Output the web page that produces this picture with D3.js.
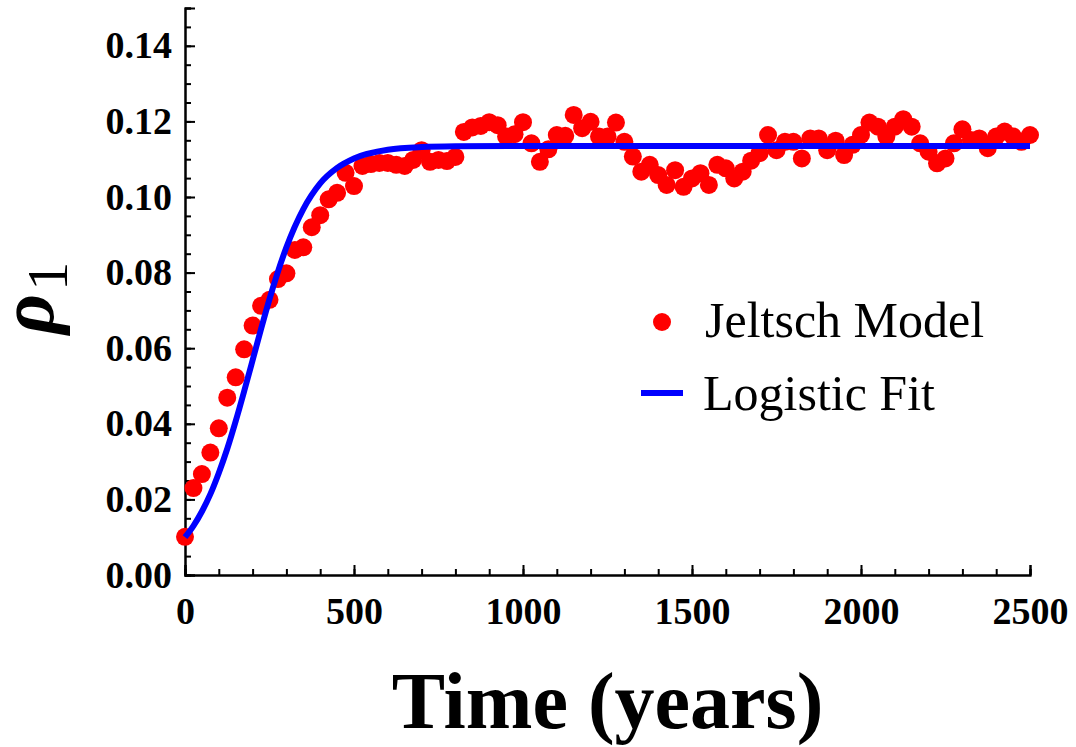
<!DOCTYPE html>
<html lang="en">
<head>
    <meta charset="UTF-8">
    <title>Jeltsch Model vs Logistic Fit</title>
    <style>
        body, html {
          margin: 0;
          padding: 0;
          background: #fff;
        }
        text {
          font-family: 'Liberation Serif', 'Times New Roman', serif;
        }
    </style>
</head>
<body>
  <svg id="svg" width="1076" height="747"></svg>

  <script src="https://d3js.org/d3.v7.min.js"></script>
  <script>
    // ----- DATA ----------
    // simulation output, one point every 25 years
    const modelTimes = d3.range(0, 2501, 25)
    const modelValues = [
      0.0101, 0.0230, 0.0267, 0.0324, 0.0388, 0.0469, 0.0523, 0.0597, 0.0660, 0.0712,
      0.0728, 0.0783, 0.0798, 0.0860, 0.0867, 0.0920, 0.0952, 0.0994, 0.1011, 0.1064,
      0.1029, 0.1082, 0.1087, 0.1090, 0.1090, 0.1085, 0.1082, 0.1098, 0.1124, 0.1093,
      0.1098, 0.1095, 0.1106, 0.1172, 0.1184, 0.1188, 0.1198, 0.1190, 0.1160, 0.1166,
      0.1198, 0.1142, 0.1093, 0.1126, 0.1164, 0.1162, 0.1217, 0.1182, 0.1199, 0.1160,
      0.1160, 0.1197, 0.1146, 0.1107, 0.1067, 0.1085, 0.1058, 0.1032, 0.1071, 0.1027,
      0.1049, 0.1063, 0.1032, 0.1085, 0.1076, 0.1049, 0.1067, 0.1096, 0.1116, 0.1164,
      0.1124, 0.1146, 0.1146, 0.1102, 0.1155, 0.1155, 0.1124, 0.1149, 0.1111, 0.1138,
      0.1164, 0.1197, 0.1186, 0.1160, 0.1186, 0.1206, 0.1186, 0.1142, 0.1120, 0.1089,
      0.1102, 0.1142, 0.1179, 0.1151, 0.1155, 0.1129, 0.1160, 0.1173, 0.1160, 0.1146,
      0.1164
    ]

    // logistic fit
    const fitTimes = [0, 25, 50, 75, 100, 125, 150, 175, 200, 225, 250, 300, 350, 400, 450, 500, 600, 700, 800, 1000, 1500, 2000, 2500]
    const fitValues = [0.0100, 0.0130, 0.0168, 0.0214, 0.0270, 0.0334, 0.0407, 0.0486, 0.0568, 0.0651, 0.0730, 0.0867, 0.0968, 0.1036, 0.1077, 0.1102, 0.1125, 0.1132, 0.1134, 0.1135, 0.1135, 0.1135, 0.1135]

    const xTicks = [0, 500, 1000, 1500, 2000, 2500]
    const yTicks = [0, 0.02, 0.04, 0.06, 0.08, 0.10, 0.12, 0.14]
    const legendLabels = ['Jeltsch Model', 'Logistic Fit']

    // CONSTANTS
    const x0 = 185, x1 = 1030
    const y0 = 575, y1 = 8

    // -------- SCALES ------------
    const xScale = d3.scaleLinear()
        .domain([0, 2500])
        .range([x0, x1])

    const yScale = d3.scaleLinear()
        .domain([0, 0.15])
        .range([y0, y1])

    const svg = d3.select('#svg')

    // -------- AXES ------------
    // minor ticks first, then labelled major ticks on top
    const minorX = d3.axisBottom(xScale)
        .tickValues(d3.range(0, 2501, 100))
        .tickSize(-6)
        .tickFormat('')
    svg.append('g')
        .attr('transform', `translate(0, ${y0})`)
        .call(minorX)

    const bottomAxis = d3.axisBottom(xScale)
        .tickValues(xTicks)
        .tickSize(-10)
        .tickPadding(22)
        .tickFormat(d3.format('d'))
    svg.append('g')
        .attr('transform', `translate(0, ${y0})`)
        .call(bottomAxis)

    const minorY = d3.axisLeft(yScale)
        .tickValues(d3.range(0, 0.1501, 0.005))
        .tickSize(-6)
        .tickFormat('')
    svg.append('g')
        .attr('transform', `translate(${x0}, 0)`)
        .call(minorY)

    const leftAxis = d3.axisLeft(yScale)
        .tickValues(yTicks)
        .tickSize(-10)
        .tickPadding(13)
        .tickFormat(d3.format('.2f'))
    svg.append('g')
        .attr('transform', `translate(${x0}, 0)`)
        .call(leftAxis)

    svg.selectAll('.domain')
        .attr('stroke', '#000')
        .attr('stroke-width', 2)
    svg.selectAll('.tick line')
        .attr('stroke', '#000')
        .attr('stroke-width', 2)

    svg.selectAll('.tick text')
        .style('font-family', "'Liberation Serif', serif")
        .style('font-weight', 'bold')
        .style('font-size', '38px')
        .attr('fill', '#000')

    // -------- DRAW ------------
    const points = modelTimes.map((t, i) => ({ t: t, v: modelValues[i] }))
    const fit = fitTimes.map((t, i) => ({ t: t, v: fitValues[i] }))

    svg.append('g')
        .selectAll('circle')
        .data(points)
        .enter()
        .append('circle')
        .attr('cx', d => xScale(d.t))
        .attr('cy', d => yScale(d.v))
        .attr('r', 9)
        .attr('fill', '#ff0000')

    const line = d3.line()
        .x(d => xScale(d.t))
        .y(d => yScale(d.v))
        .curve(d3.curveMonotoneX)

    svg.append('path')
        .datum(fit)
        .attr('d', line)
        .attr('fill', 'none')
        .attr('stroke', '#0000ff')
        .attr('stroke-width', 6)

    // -------- LEGEND ------------
    svg.append('circle')
        .attr('cx', 662)
        .attr('cy', 322)
        .attr('r', 9)
        .attr('fill', '#ff0000')
    svg.append('text')
        .attr('x', 705)
        .attr('y', 337)
        .style('font-size', '50px')
        .text(legendLabels[0])

    svg.append('line')
        .attr('x1', 641)
        .attr('x2', 683)
        .attr('y1', 393)
        .attr('y2', 393)
        .attr('stroke', '#0000ff')
        .attr('stroke-width', 6)
    svg.append('text')
        .attr('x', 703)
        .attr('y', 410)
        .style('font-size', '50px')
        .text(legendLabels[1])

    // -------- AXIS LABELS ------------
    svg.append('text')
        .attr('x', (x0 + x1) / 2)
        .attr('y', 728)
        .attr('text-anchor', 'middle')
        .style('font-weight', 'bold')
        .style('font-size', '80px')
        .text('Time (years)')

    // rho_1, rotated, reads bottom to top
    const yLabel = svg.append('text')
        .attr('transform', 'translate(53, 334)rotate(-90)')
        .attr('text-anchor', 'start')
        .style('font-weight', 'bold')
    yLabel.append('tspan')
        .style('font-style', 'italic')
        .style('font-size', '78px')
        .text('ρ')
    yLabel.append('tspan')
        .attr('dx', 3)
        .attr('dy', 14)
        .style('font-size', '58px')
        .style('font-weight', 'normal')
        .text('1')
  </script>
</body>
</html>
